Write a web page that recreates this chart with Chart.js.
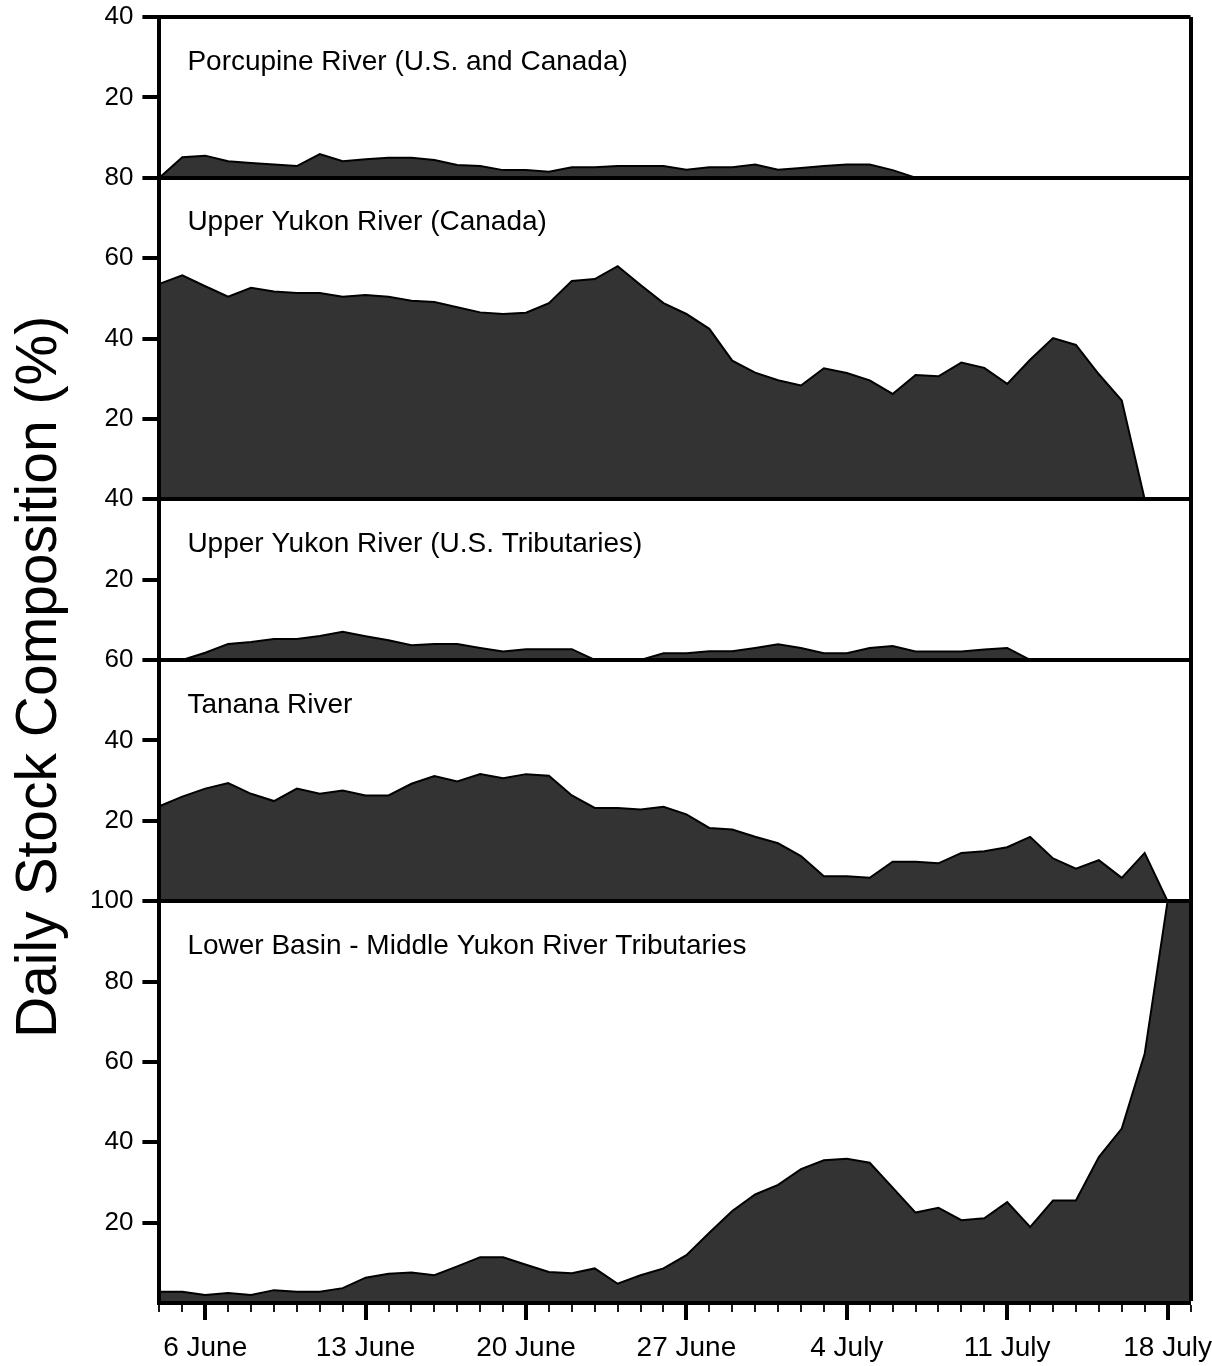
<!DOCTYPE html>
<html>
<head>
<meta charset="utf-8">
<title>Daily Stock Composition</title>
<script src="https://cdn.jsdelivr.net/npm/chart.js@4.4.1/dist/chart.umd.min.js"></script>
<style>
  html, body { margin: 0; padding: 0; background: #fff; }
  #wrap { width: 1212px; height: 1366px; }
</style>
</head>
<body>
<div id="wrap"><canvas id="chart" width="1212" height="1366"></canvas></div>
<script>
/* ---- data (one value per day, 4 June .. 19 July) ---- */
const dates = [
  '4 June', '5 June', '6 June', '7 June', '8 June', '9 June', '10 June', '11 June', '12 June',
  '13 June', '14 June', '15 June', '16 June', '17 June', '18 June', '19 June', '20 June',
  '21 June', '22 June', '23 June', '24 June', '25 June', '26 June', '27 June', '28 June',
  '29 June', '30 June', '1 July', '2 July', '3 July', '4 July', '5 July', '6 July', '7 July',
  '8 July', '9 July', '10 July', '11 July', '12 July', '13 July', '14 July', '15 July',
  '16 July', '17 July', '18 July', '19 July'
];
const majorTicks = ['6 June', '13 June', '20 June', '27 June', '4 July', '11 July', '18 July'];

const panelNames = [
  'Porcupine River (U.S. and Canada)',
  'Upper Yukon River (Canada)',
  'Upper Yukon River (U.S. Tributaries)',
  'Tanana River',
  'Lower Basin - Middle Yukon River Tributaries'
];
const panelMax = [40, 80, 40, 60, 100];

const porcupine = [0, 5.1, 5.5, 4.1, 3.7, 3.3, 2.9, 5.9, 4.1, 4.6,
  5.0, 5.0, 4.4, 3.2, 2.9, 1.9, 1.9, 1.5, 2.6, 2.6,
  2.9, 2.9, 2.9, 2.0, 2.6, 2.6, 3.3, 2.0, 2.4, 2.9,
  3.3, 3.3, 1.9, 0, 0, 0, 0, 0, 0, 0,
  0, 0, 0, 0, 0, 0];
const upperCanada = [53.6, 55.7, 53.0, 50.4, 52.6, 51.7, 51.3, 51.3, 50.4, 50.8,
  50.4, 49.4, 49.1, 47.8, 46.5, 46.1, 46.4, 48.8, 54.3, 54.8,
  58.0, 53.3, 48.8, 46.1, 42.4, 34.5, 31.5, 29.6, 28.3, 32.6,
  31.4, 29.6, 26.2, 30.9, 30.6, 34.0, 32.7, 28.7, 34.7, 40.1,
  38.4, 31.1, 24.6, 0, 0, 0];
const upperUS = [0, 0, 1.8, 4.0, 4.5, 5.2, 5.2, 6.0, 7.0, 5.9,
  4.9, 3.7, 4.0, 4.0, 3.0, 2.1, 2.7, 2.7, 2.7, 0,
  0, 0, 1.7, 1.7, 2.2, 2.2, 3.0, 3.9, 3.0, 1.7,
  1.7, 3.0, 3.5, 2.1, 2.1, 2.1, 2.6, 3.0, 0, 0,
  0, 0, 0, 0, 0, 0];
const tanana = [23.6, 26.0, 28.0, 29.4, 26.7, 24.9, 28.0, 26.7, 27.5, 26.3,
  26.3, 29.2, 31.1, 29.8, 31.6, 30.6, 31.6, 31.2, 26.3, 23.2,
  23.2, 22.8, 23.5, 21.6, 18.2, 17.8, 16.0, 14.4, 11.2, 6.2,
  6.2, 5.8, 9.8, 9.8, 9.4, 12.0, 12.4, 13.4, 16.0, 10.6,
  8.1, 10.2, 5.8, 12.0, 0, 0];
const lowerBasin = [2.8, 2.8, 2.0, 2.5, 2.0, 3.2, 2.8, 2.8, 3.7, 6.3,
  7.3, 7.6, 6.9, 9.1, 11.4, 11.4, 9.5, 7.7, 7.4, 8.6,
  4.8, 6.9, 8.6, 11.9, 17.5, 22.9, 27.0, 29.4, 33.3, 35.5,
  35.9, 34.9, 28.7, 22.5, 23.7, 20.6, 21.1, 25.1, 18.9, 25.5,
  25.5, 36.3, 43.4, 62.0, 100, 100];

const series = [porcupine, upperCanada, upperUS, tanana, lowerBasin];

const FONT = '"Liberation Sans", Arial, Helvetica, sans-serif';
const isMajor = i => majorTicks.includes(dates[i]);

/* panel names, written inside the top-left corner of each panel */
const panelLabels = {
  id: 'panelLabels',
  afterDatasetsDraw(chart) {
    const { ctx, chartArea } = chart;
    ctx.save();
    ctx.font = '28px ' + FONT;
    ctx.fillStyle = '#000';
    ctx.textBaseline = 'middle';
    ctx.textAlign = 'left';
    chart.data.datasets.forEach(ds => {
      const top = chart.scales[ds.yAxisID].top;
      ctx.fillText(ds.label, chartArea.left + 28, top + 45);
    });
    ctx.restore();
  }
};

const scales = {
  x: {
    type: 'category',
    offset: false,
    afterFit: s => { s.height = 63; },
    border: { display: true, color: '#000', width: 4, z: 1 },
    grid: {
      z: 1,
      offset: false,
      color: '#000',
      lineWidth: c => (c.index === dates.length - 1 ? 4 : 0),
      tickLength: 17,
      tickColor: '#000',
      tickWidth: c => (isMajor(c.index) ? 4 : 1.8),
      tickBorderDash: c => (isMajor(c.index) ? [] : [7, 40])
    },
    ticks: {
      autoSkip: false, maxRotation: 0, minRotation: 0, padding: 11,
      color: '#000', font: { family: FONT, size: 28 },
      callback: (v, i) => (isMajor(i) ? dates[i] : '')
    }
  }
};

/* one stacked y scale per panel; left boxes are laid out in reverse,
   so add them bottom panel first */
for (let p = panelMax.length - 1; p >= 0; p--) {
  const max = panelMax[p];
  scales['p' + p] = {
    type: 'linear',
    position: 'left',
    stack: 'panels',
    stackWeight: max,
    min: 0,
    max: max,
    afterFit: s => { s.width = 90.4; s.paddingTop = 17; s.paddingBottom = 0; },
    border: { display: true, color: '#000', width: 4, z: 1 },
    grid: {
      z: 1,
      color: '#000',
      lineWidth: c => (c.tick && c.tick.value === max ? 4 : 0),
      tickLength: 17,
      tickWidth: 4,
      tickColor: c => (c.tick && c.tick.value === 0 ? 'rgba(0,0,0,0)' : '#000')
    },
    ticks: {
      stepSize: 20, padding: 9, color: '#000',
      font: { family: FONT, size: 26 },
      callback: v => (v === 0 ? '' : v)
    }
  };
}

const datasets = series.map((vals, p) => ({
  label: panelNames[p],
  data: vals,
  yAxisID: 'p' + p,
  borderColor: '#000',
  borderWidth: 2,
  backgroundColor: '#333333',
  fill: 'origin',
  tension: 0,
  pointRadius: 0
}));

new Chart(document.getElementById('chart'), {
  type: 'line',
  data: { labels: dates, datasets },
  options: {
    responsive: false,
    animation: false,
    devicePixelRatio: 1,
    events: [],
    /* negative top padding only moves the centred y title up a little */
    layout: { padding: { top: -12, bottom: 0, left: 0, right: 21.5 } },
    plugins: {
      legend: { display: false },
      tooltip: { enabled: false },
      title: {
        display: true,
        position: 'left',
        text: 'Daily Stock Composition (%)',
        color: '#000',
        font: { family: FONT, size: 57, weight: 'normal', lineHeight: 1 },
        padding: { top: 12, bottom: 0 }
      }
    },
    scales
  },
  plugins: [panelLabels]
});
</script>
</body>
</html>
